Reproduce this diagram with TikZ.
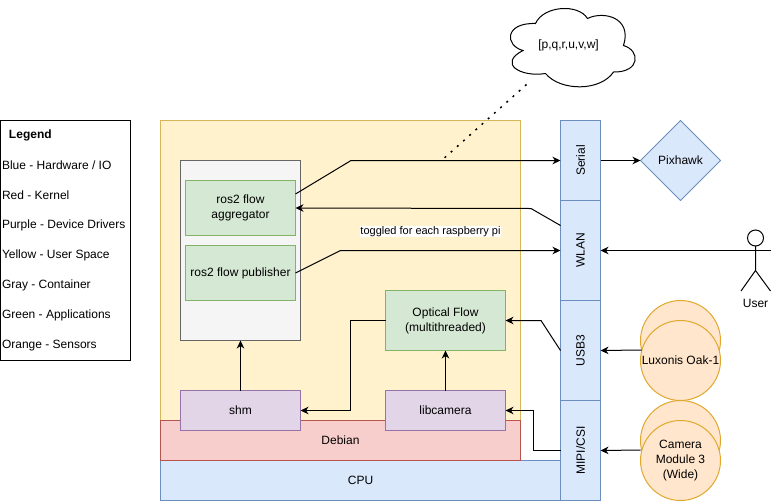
\documentclass[tikz,border=0pt]{standalone}
\usepackage{fontspec}
\setmainfont{Liberation Sans}
\usetikzlibrary{arrows.meta,shapes.geometric}
\definecolor{yelF}{HTML}{FFF2CC}\definecolor{yelS}{HTML}{D6B656}
\definecolor{bluF}{HTML}{DAE8FC}\definecolor{bluS}{HTML}{6C8EBF}
\definecolor{redF}{HTML}{F8CECC}\definecolor{redS}{HTML}{B85450}
\definecolor{purF}{HTML}{E1D5E7}\definecolor{purS}{HTML}{9673A6}
\definecolor{gryF}{HTML}{F5F5F5}\definecolor{gryS}{HTML}{666666}
\definecolor{grnF}{HTML}{D5E8D4}\definecolor{grnS}{HTML}{82B366}
\definecolor{orgF}{HTML}{FFE6CC}\definecolor{orgS}{HTML}{E0A82E}
\tikzset{
  base/.style={inner sep=0pt,outer sep=0pt,line width=1pt,align=center,font=\fontsize{12}{15}\selectfont},
  block/.style={base,draw,rectangle},
  userbox/.style={block,fill=yelF,draw=yelS},
  hwbox/.style={block,fill=bluF,draw=bluS},
  kernelbox/.style={block,fill=redF,draw=redS},
  driverbox/.style={block,fill=purF,draw=purS},
  containerbox/.style={block,fill=gryF,draw=gryS},
  appbox/.style={block,fill=grnF,draw=grnS},
  portbox/.style={hwbox,rotate=90,minimum height=40pt},
  sensorbox/.style={base,draw=orgS,fill=orgF,ellipse,minimum width=80pt,minimum height=80pt},
  plaintxt/.style={base},
  legendtxt/.style={base,anchor=west,align=left},
  conn/.style={line width=1pt,-{Stealth[length=8pt,width=7.5pt,inset=2.5pt]}},
}
\begin{document}
\begin{tikzpicture}[x=1pt,y=-1pt]
\useasboundingbox (0,0) rectangle (771,501);
\begin{scope}[shift={(0.5,0.5)}]
% legend
\node[block,draw=black,fill=white,minimum width=130pt,minimum height=240pt] (legend) at (65,240) {};
\node[legendtxt,font=\fontsize{12}{15}\selectfont\bfseries] (lg0) at (8.5,135) {Legend};
\node[legendtxt] (lg1) at (1.5,165) {Blue - Hardware / IO};
\node[legendtxt] (lg2) at (1.5,195) {Red - Kernel};
\node[legendtxt] (lg3) at (1.5,225) {Purple - Device Drivers};
\node[legendtxt] (lg4) at (1.5,255) {Yellow - User Space};
\node[legendtxt] (lg5) at (1.5,285) {Gray - Container};
\node[legendtxt] (lg6) at (1.5,315) {Green - Applications};
\node[legendtxt] (lg7) at (1.5,345) {Orange - Sensors};
% layers
\node[userbox,minimum width=360pt,minimum height=300pt] (user) at (340,270) {};
\node[hwbox,minimum width=400pt,minimum height=40pt] (cpu) at (360,480) {CPU};
\node[kernelbox,minimum width=360pt,minimum height=40pt] (debian) at (340,440) {Debian};
\node[containerbox,minimum width=120pt,minimum height=180pt] (cont) at (240,250) {};
\node[appbox,minimum width=110pt,minimum height=55pt] (agg) at (240,207.5) {ros2 flow\\aggregator};
\node[appbox,minimum width=110pt,minimum height=55pt] (pub) at (240,272.5) {ros2 flow publisher};
\node[appbox,minimum width=120pt,minimum height=60pt] (flow) at (445,320) {Optical Flow\\(multithreaded)};
\node[driverbox,minimum width=120pt,minimum height=40pt] (shm) at (240,410) {shm};
\node[driverbox,minimum width=120pt,minimum height=40pt] (libcam) at (445,410) {libcamera};
% ports
\node[portbox,minimum width=80pt] (serial) at (580,160) {Serial};
\node[portbox,minimum width=100pt] (wlan) at (580,250) {WLAN};
\node[portbox,minimum width=100pt] (usb) at (580,350) {USB3};
\node[portbox,minimum width=100pt] (mipi) at (580,450) {MIPI/CSI};
% externals
\node[base,draw=bluS,fill=bluF,diamond,aspect=1,minimum width=80pt,minimum height=80pt] (pix) at (680,160) {Pixhawk};
\node[sensorbox] (oakb) at (680,340) {};
\node[sensorbox,label={[plaintxt]center:Luxonis Oak-1}] (oak) at (680,360) {};
\node[sensorbox] (camb) at (680,440) {};
\node[sensorbox,label={[plaintxt]center:Camera\\Module 3\\(Wide)}] (cam) at (680,460) {};
% actor
\draw[line width=1pt,fill=white] (755,237.5) circle (8);
\draw[line width=1pt] (755,245.5) -- (755,270) (755,270) -- (740.5,290.5) (755,270) -- (770,290.5);
\node[plaintxt] (userlbl) at (755,303) {User};
\coordinate (actor) at (771,250);
% cloud
\draw[line width=1pt,fill=white] (535,23) .. controls (543,5) and (578,3) .. (587,18)
  .. controls (603,10) and (632,17) .. (623,45)
  .. controls (640,50) and (640,72) .. (613,71.5)
  .. controls (600,91) and (560,91) .. (545,73)
  .. controls (520,77) and (497,63) .. (522.5,50)
  .. controls (504,45) and (504,22) .. (535,23) -- cycle;
\node[plaintxt] (state) at (568,45) {[p,q,r,u,v,w]};
\coordinate (cloudend) at (526,84);
\coordinate (dotend) at (441,160);
\draw[line width=1.5pt,dash pattern=on 2pt off 6.3pt] (cloudend) -- (dotend);
% connectors
\draw[conn] ([yshift=14pt]agg.east) -- (350.5,160) -- (serial.north);
\draw[conn] ([yshift=25pt]wlan.north) -- (530.5,208) -- (agg.east);
\draw[conn] (pub.east) -- (340,250) -- (wlan.north);
\draw[conn] (actor) -- (wlan.south);
\draw[conn] (serial.south) -- (pix.west);
\draw[conn] (flow.west) -- (350,320) -- (350,410) -- (shm.east);
\draw[conn] (usb.north) -- (540.5,320) -- (flow.east);
\draw[conn] (mipi.north) -- (533,450) -- (533,410) -- (libcam.east);
\draw[conn] (libcam.north) -- (flow.south);
\draw[conn] (shm.north) -- (cont.south);
\draw[conn] ([xshift=-39pt,yshift=10.5pt]oak.center) -- (usb.south);
\draw[conn] ([xshift=-40pt,yshift=10.5pt]cam.center) -- (mipi.south);
% toggle label
\node[plaintxt,fill=white,font=\fontsize{11}{13}\selectfont] (toggle) at (430,231) {toggled for each raspberry pi};
\end{scope}
\end{tikzpicture}
\end{document}
